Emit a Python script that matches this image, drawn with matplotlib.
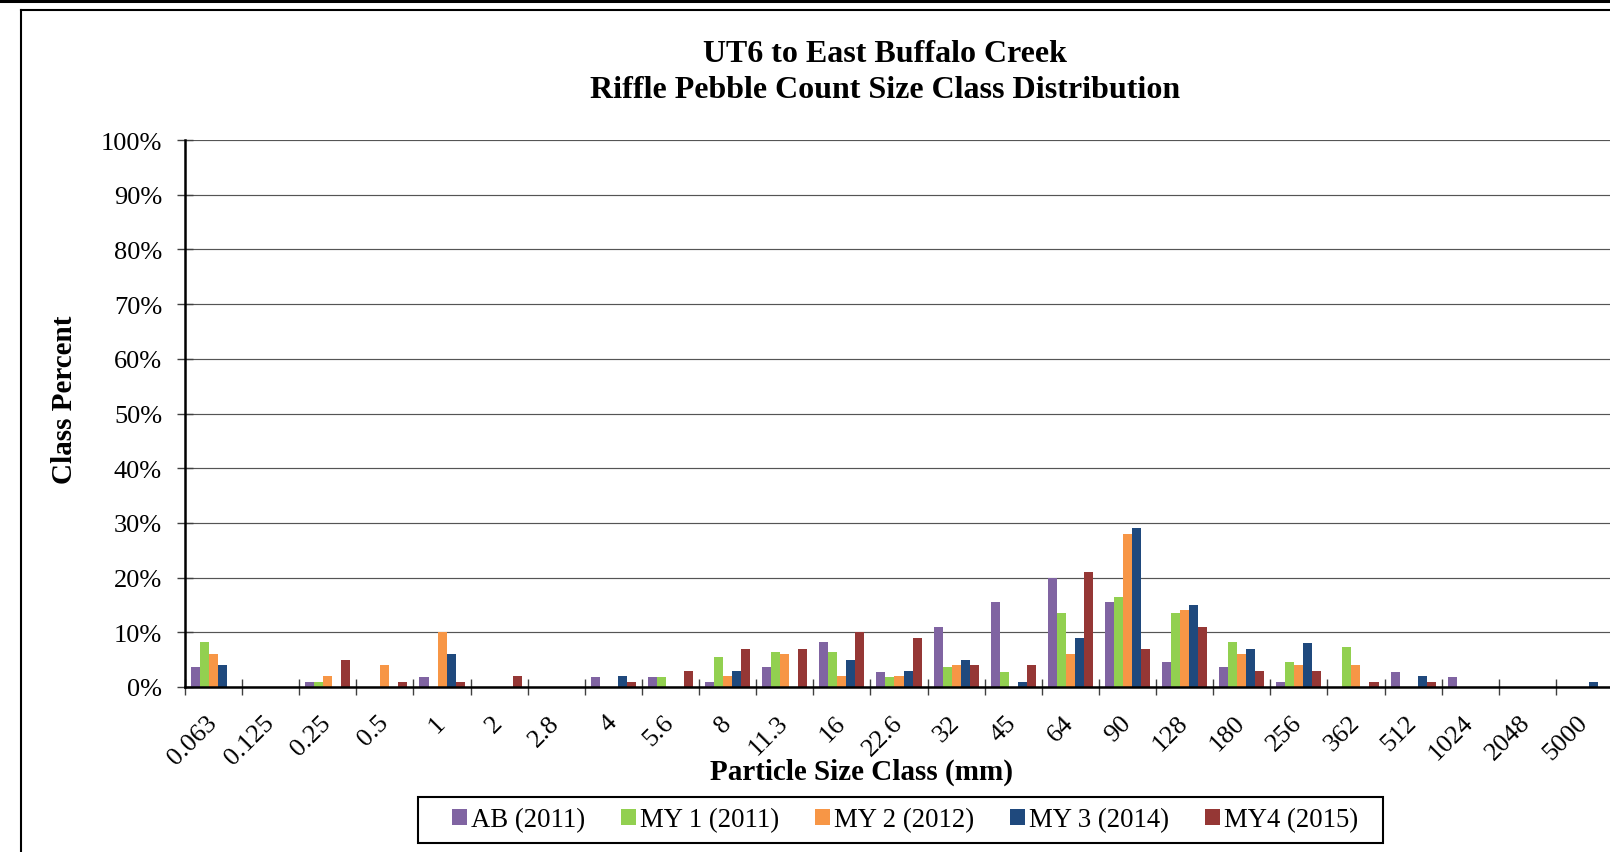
import matplotlib.pyplot as plt
import numpy as np
from matplotlib.lines import Line2D
from matplotlib.patches import Patch, Rectangle
from matplotlib.ticker import FuncFormatter

# size classes (mm)
size_class = ["0.063", "0.125", "0.25", "0.5", "1", "2", "2.8", "4", "5.6", "8",
              "11.3", "16", "22.6", "32", "45", "64", "90", "128", "180", "256",
              "362", "512", "1024", "2048", "5000"]

# class percent per survey
ab_2011 = [3.6, 0, 0.9, 0, 1.8, 0, 0, 1.8, 1.8, 0.9, 3.6, 8.2, 2.7, 10.9, 15.5,
           20.0, 15.5, 4.5, 3.6, 0.9, 0, 2.7, 1.8, 0, 0]
my1_2011 = [8.2, 0, 0.9, 0, 0, 0, 0, 0, 1.8, 5.5, 6.4, 6.4, 1.8, 3.6, 2.7,
            13.6, 16.4, 13.6, 8.2, 4.5, 7.3, 0, 0, 0, 0]
my2_2012 = [6, 0, 2, 4, 10, 0, 0, 0, 0, 2, 6, 2, 2, 4, 0, 6, 28, 14, 6, 4, 4,
            0, 0, 0, 0]
my3_2014 = [4, 0, 0, 0, 6, 0, 0, 2, 0, 3, 0, 5, 3, 5, 1, 9, 29, 15, 7, 8, 0,
            2, 0, 0, 1]
my4_2015 = [0, 0, 5, 1, 1, 2, 0, 1, 3, 7, 7, 10, 9, 4, 4, 21, 7, 11, 3, 3, 1,
            1, 0, 0, 0]

series = [("AB (2011)", ab_2011, "#8064A2"),
          ("MY 1 (2011)", my1_2011, "#92D050"),
          ("MY 2 (2012)", my2_2012, "#F79646"),
          ("MY 3 (2014)", my3_2014, "#1F497D"),
          ("MY4 (2015)", my4_2015, "#953735")]

plt.rcParams['font.family'] = ['Liberation Serif', 'DejaVu Serif']

W, H = 1610, 853
fig = plt.figure(figsize=(W / 100, H / 100), dpi=100)
ax = fig.add_axes([185 / W, 1 - 688 / H, 1428 / W, (688 - 141) / H])

x = np.arange(len(size_class))
bw = 0.158
for i, (name, vals, col) in enumerate(series):
    ax.bar(x + (i - 2) * bw, vals, width=bw, color=col, zorder=3, label=name)

ax.set_xlim(-0.5, len(size_class) - 0.5)
ax.set_ylim(0, 100)
ax.set_yticks(np.arange(0, 101, 10))
ax.yaxis.set_major_formatter(FuncFormatter(lambda v, p: f"{int(v)}%"))
ax.grid(axis='y', color='#555555', linewidth=0.85, zorder=0)

ax.set_xticks(x)
ax.set_xticklabels(size_class, rotation=45, ha='right', va='center',
                   rotation_mode='anchor', fontsize=19)
ax.set_xticks(np.arange(-0.5, len(size_class)), minor=True)
ax.tick_params(axis='x', which='major', length=0, pad=23)
ax.tick_params(axis='x', which='minor', direction='inout', length=11,
               width=1, color='#404040')
ax.tick_params(axis='y', direction='inout', length=11, width=1,
               color='#404040', labelsize=19, pad=11)

for s in ['top', 'right']:
    ax.spines[s].set_visible(False)
ax.spines['left'].set_linewidth(1.8)
ax.spines['bottom'].set_linewidth(1.8)
ax.spines['left'].set_zorder(4)
ax.spines['bottom'].set_zorder(4)

fig.text(885 / W, 1 - 54 / H, "UT6 to East Buffalo Creek", ha='center',
         va='center', fontsize=23, fontweight='bold')
fig.text(885 / W, 1 - 90 / H, "Riffle Pebble Count Size Class Distribution",
         ha='center', va='center', fontsize=23, fontweight='bold')
fig.text(64 / W, 1 - 400 / H, "Class Percent", rotation=90, ha='center',
         va='center', fontsize=21, fontweight='bold')
fig.text(861 / W, 1 - 772 / H, "Particle Size Class (mm)", ha='center',
         va='center', fontsize=21, fontweight='bold')

handles = [Patch(facecolor=c, label=n) for n, v, c in series]
leg = fig.legend(handles=handles, loc='center', ncol=5,
                 bbox_to_anchor=(905 / W, 1 - 821 / H), fontsize=19.3,
                 frameon=False, handlelength=0.55, handleheight=0.55,
                 handletextpad=0.15, columnspacing=1.35, borderaxespad=0)
fig.add_artist(Rectangle((418 / W, 1 - 844 / H), (1383 - 418) / W, 46 / H,
                         transform=fig.transFigure, fill=False,
                         edgecolor='black', linewidth=1.5))

# page line and chart border
fig.add_artist(Line2D([0, 1], [1 - 1.5 / H, 1 - 1.5 / H], color='black',
                      linewidth=2.2, transform=fig.transFigure))
fig.add_artist(Line2D([21 / W, 1], [1 - 11 / H, 1 - 11 / H], color='black',
                      linewidth=1.5, transform=fig.transFigure))
fig.add_artist(Line2D([21 / W, 21 / W], [0, 1 - 11 / H], color='black',
                      linewidth=1.5, transform=fig.transFigure))

fig.savefig("out.png", dpi=100)
